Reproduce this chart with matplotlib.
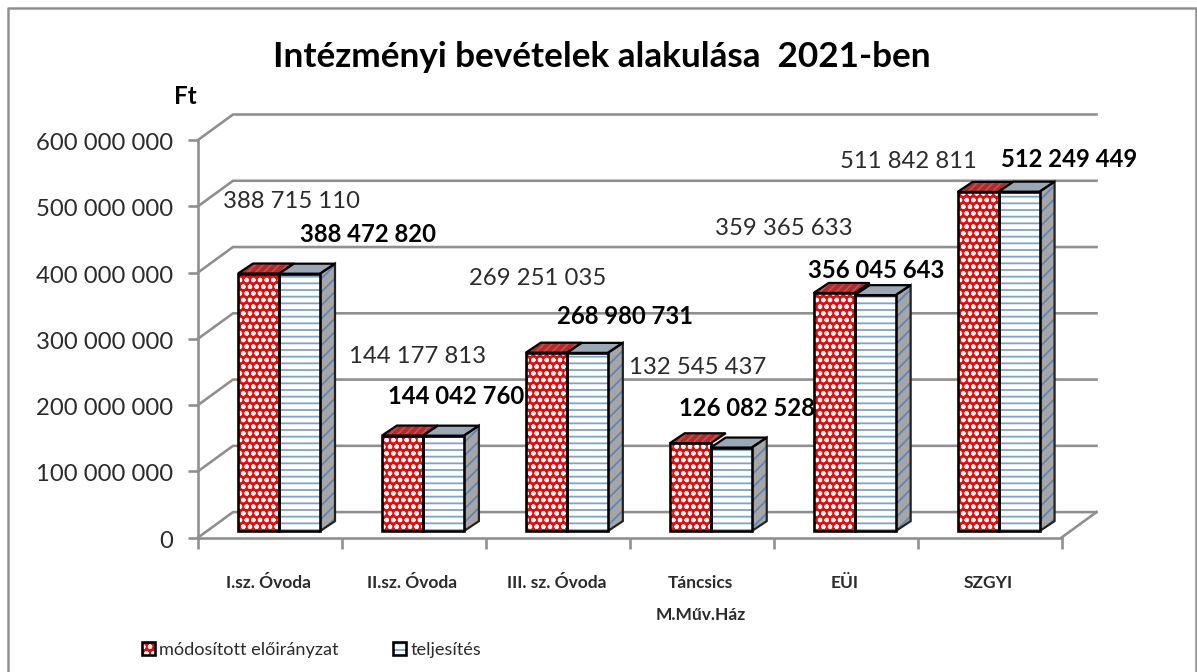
import matplotlib
matplotlib.use("Agg")
import matplotlib.pyplot as plt
from matplotlib.lines import Line2D
from matplotlib.patches import Patch, Polygon
from matplotlib.legend_handler import HandlerTuple
from matplotlib.transforms import ScaledTranslation
import numpy as np

plt.rcParams['font.family'] = ['Lato', 'DejaVu Sans']
plt.rcParams['hatch.linewidth'] = 1.1

categories = ['I.sz. Óvoda', 'II.sz. Óvoda', 'III. sz. Óvoda', 'Táncsics\nM.Műv.Ház', 'EÜI', 'SZGYI']
modositott = [388715110, 144177813, 269251035, 132545437, 359365633, 511842811]
teljesites = [388472820, 144042760, 268980731, 126082528, 356045643, 512249449]
y_ticks = [0, 100000000, 200000000, 300000000, 400000000, 500000000, 600000000]
series_names = ['módosított előirányzat', 'teljesítés']

# label offsets from the bar top, in pixels
offsets_mod = [(33, 72), (15, 79), (-9, 74), (7, 76), (-50, 64), (-70, 30)]
offsets_telj = [(68, 39), (13, 39), (38, 36), (16, 39), (1, 25), (50, 32)]

W, H, DPI = 1197, 672, 120
GRAY = '#8f8f8f'
TEXT = '#2b2b2b'


def fmt(v):
    return f'{v:,}'.replace(',', ' ')


def px(points):
    return points * 72 / DPI


fig = plt.figure(figsize=(W / DPI, H / DPI), dpi=DPI, facecolor='white')
ax = fig.add_axes([198 / W, (H - 537.6) / H, 863.5 / W, 397.6 / H])
ax.set_xlim(0, 6)
ax.set_ylim(0, 600000000)
ax.patch.set_visible(False)

# pixels to data units
ux = 6 / 863.5
uy = 600000000 / 397.6

# back wall and side wall
wall_x, wall_y = 35 * ux, 25.5 * uy
for t in y_ticks:
    ax.plot([0, wall_x, 6 + wall_x], [t, t + wall_y, t + wall_y], color=GRAY, lw=px(2.6),
            clip_on=False, zorder=1, solid_joinstyle='miter')
ax.plot([6, 6 + wall_x], [0, wall_y], color=GRAY, lw=px(2.6), clip_on=False, zorder=1)

for s in ['top', 'right']:
    ax.spines[s].set_visible(False)
for s in ['left', 'bottom']:
    ax.spines[s].set_color(GRAY)
    ax.spines[s].set_linewidth(px(2.6))

ax.set_yticks(y_ticks)
ax.set_yticklabels([fmt(t) for t in y_ticks], fontsize=14.3, color=TEXT)
ax.tick_params(axis='y', length=px(10), width=px(2.6), color=GRAY, pad=px(15))
label_shift = ScaledTranslation(0, -px(1.5) / 72, fig.dpi_scale_trans)
for lab in ax.get_yticklabels():
    lab.set_transform(lab.get_transform() + label_shift)
ax.set_xticks(range(7))
ax.set_xticklabels([])
ax.tick_params(axis='x', which='major', length=px(11), width=px(2.6), color=GRAY)
ax.set_xticks(np.arange(6) + 0.49, minor=True)
ax.set_xticklabels(categories, minor=True, fontsize=10.4, fontweight='bold', color=TEXT, linespacing=2.3)
ax.tick_params(axis='x', which='minor', length=0, pad=px(37))

# bars stand a little behind the front edge of the floor
bar_tr = ax.transData + ScaledTranslation(px(8) / 72, px(6.5) / 72, fig.dpi_scale_trans)
bar_w = 41 * ux
depth_x, depth_y = 15 * ux, 10 * uy
x = np.arange(6)
lefts = x + 32 * ux
styles = [
    dict(face='#ff0000', hatch='ooo', hc='white', top='#b32a2a', top_hc='#c94c4c',
         side='#a6a6a6', side_hc='#5f86b8'),
    dict(face='white', hatch='---', hc='#7fa3d1', top='#9aa7b5', top_hc='#9aa7b5',
         side='#a6a6a6', side_hc='#5f86b8'),
]
handles = []
for k, values in enumerate([modositott, teljesites]):
    st = styles[k]
    pos = lefts + k * bar_w
    ax.bar(pos, values, bar_w, align='edge', color=st['face'], edgecolor=st['hc'], hatch=st['hatch'],
           lw=0, transform=bar_tr, zorder=3 + k * 0.1, clip_on=False)
    ax.bar(pos, values, bar_w, align='edge', fill=False, edgecolor='black', lw=px(2.6),
           transform=bar_tr, zorder=3.5 + k * 0.1, clip_on=False)
    for p, v in zip(pos, values):
        top_pts = [(p, v), (p + bar_w, v), (p + bar_w + depth_x, v + depth_y), (p + depth_x, v + depth_y)]
        ax.add_patch(Polygon(top_pts, closed=True, facecolor=st['top'], edgecolor=st['top_hc'], hatch='/////',
                             lw=0, transform=bar_tr, zorder=2.8 + k * 0.1, clip_on=False))
        ax.add_patch(Polygon(top_pts, closed=True, fill=False, edgecolor='black', lw=px(2.2),
                             transform=bar_tr, zorder=2.9 + k * 0.1, clip_on=False))
        if k == 1:
            side_pts = [(p + bar_w, 0), (p + bar_w + depth_x, depth_y), (p + bar_w + depth_x, v + depth_y), (p + bar_w, v)]
            ax.add_patch(Polygon(side_pts, closed=True, facecolor=st['side'], edgecolor=st['side_hc'], hatch='///',
                                 lw=0, transform=bar_tr, zorder=2.8, clip_on=False))
            ax.add_patch(Polygon(side_pts, closed=True, fill=False, edgecolor='#222222', lw=px(2.2),
                                 transform=bar_tr, zorder=2.9, clip_on=False))
    handles.append((Patch(facecolor=st['face'], edgecolor=st['hc'], hatch=st['hatch'], lw=0),
                    Patch(fill=False, edgecolor='black', lw=px(2.6))))

# value labels
for i in range(6):
    ax.annotate(fmt(modositott[i]), xy=(lefts[i] + bar_w / 2, modositott[i]), xycoords=bar_tr,
                xytext=offsets_mod[i], textcoords='offset pixels', ha='center', va='center',
                fontsize=14.3, color=TEXT, zorder=6, annotation_clip=False)
    ax.annotate(fmt(teljesites[i]), xy=(lefts[i] + 1.5 * bar_w, teljesites[i]), xycoords=bar_tr,
                xytext=offsets_telj[i], textcoords='offset pixels', ha='center', va='center',
                fontsize=14.3, fontweight='bold', color='black', zorder=6, annotation_clip=False)

fig.text(602 / W, 1 - 57 / H, 'Intézményi bevételek alakulása  2021-ben', ha='center', va='center',
         fontsize=21.1, fontweight='bold', color='black')
fig.text(185 / W, 1 - 97 / H, 'Ft', ha='center', va='center', fontsize=14.5, fontweight='bold', color='black')

fig.legend(handles, series_names, handler_map={tuple: HandlerTuple(ndivide=1, pad=0)},
           loc='center left', bbox_to_anchor=(142 / W, 1 - 650 / H), ncol=2, frameon=False,
           fontsize=10.9, labelcolor=TEXT, handlelength=0.7, handleheight=0.7, handletextpad=0.25,
           columnspacing=3.0, borderpad=0, borderaxespad=0)

# chart frame, runs off the bottom of the picture
fig.add_artist(Line2D([7.5 / W, 7.5 / W, 1196 / W, 1196 / W], [0, 1 - 8 / H, 1 - 8 / H, 0],
                      color='#909090', lw=px(2.5), transform=fig.transFigure))

fig.savefig('out.png', dpi=DPI)
